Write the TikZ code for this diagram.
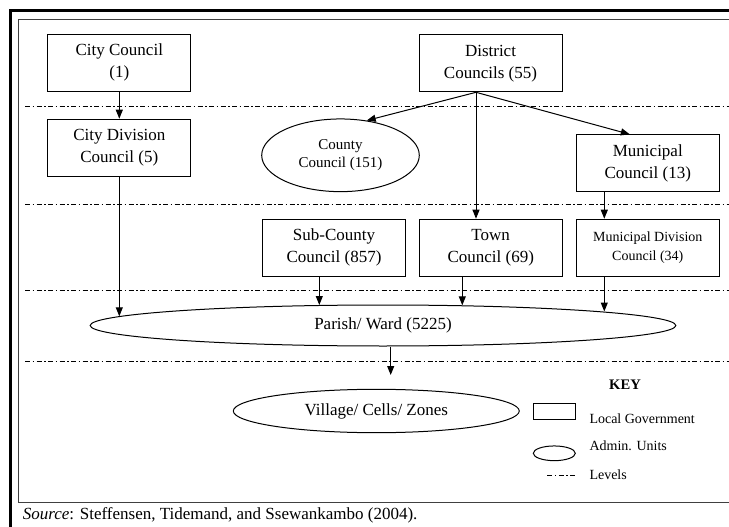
\documentclass[tikz,border=0pt]{standalone}
\usepackage{fontspec}
\setmainfont{Liberation Serif}
\usetikzlibrary{shapes.geometric,arrows.meta}
\begin{document}
\begin{tikzpicture}[x=1pt,y=-1pt,
	lgbox/.style={draw,line width=1pt,minimum width=143pt,minimum height=57pt,inner sep=0pt,align=center,font=\fontsize{17}{22}\selectfont},
	aunit/.style={draw,ellipse,line width=1pt,inner sep=0pt,align=center,font=\fontsize{17}{22}\selectfont},
	lev/.style={line width=.9pt,dash pattern=on 5pt off 2.5pt on 1.5pt off 2.5pt},
	arr/.style={line width=1pt,-{Triangle[length=9pt,width=7pt]}},
	keytext/.style={anchor=west,inner sep=0pt,font=\fontsize{14}{16}\selectfont}]
	\useasboundingbox (0,0) rectangle (729,527);
	\clip (0,0) rectangle (729,527);
	% khung ngoai va khung trong
	\draw[line width=3pt] (10.5,540) -- (10.5,11) -- (740,11);
	\draw[line width=1.2pt,black!75] (740,502.7) -- (18.5,502.7) -- (18.5,19.5) -- (740,19.5);
	\foreach \y in {106,204.3,290,361}
	\draw[lev] (25,\y) -- (740,\y);
	
	\node[lgbox] (city) at (119.3,62.7) {City Council\\(1)};
	\node[lgbox] (cdiv) at (119.3,147.7) {City Division\\Council (5)};
	\node[lgbox] (dist) at (490.5,63.3) {District\\Councils (55)};
	\node[aunit,minimum width=157.6pt,minimum height=72.7pt,font=\fontsize{15}{18}\selectfont] (county) at (340.5,155.3) {County\\Council (151)};
	\node[lgbox] (muni) at (647.8,163.3) {Municipal\\Council (13)};
	\node[lgbox] (sub) at (334,247.7) {Sub-County\\Council (857)};
	\node[lgbox] (town) at (490.7,247.7) {Town\\Council (69)};
	\node[lgbox,font=\fontsize{14}{19.4}\selectfont] (mdiv) at (647.8,247.7) {Municipal Division\\Council (34)};
	\node[aunit,minimum width=585.7pt,minimum height=41pt] (parish) at (383,325.5) {Parish/ Ward (5225)};
	\node[aunit,minimum width=286pt,minimum height=43.4pt] (vill) at (376.3,411) {Village/ Cells/ Zones};
	
	\draw[arr] (city) -- (cdiv);
	\coordinate (dsrc) at ([xshift=-14.5pt]dist.south);
	\draw[arr] (dsrc) -- (county.53);
	\draw[arr] (dsrc) -- (dsrc |- town.north);
	\draw[arr] (dsrc) -- ([xshift=-18pt]muni.north);
	\draw[arr] ([xshift=-43.5pt]muni.south) -- ([xshift=-43.5pt]mdiv.north);
	\draw[arr] (cdiv) -- (cdiv.south |- parish.178);
	\draw[arr] ([xshift=-14.7pt]sub.south) -- ([xshift=-63.7pt,yshift=-.5pt]parish.north);
	\draw[arr] ([xshift=-28.4pt]town.south) -- ([xshift=79.3pt,yshift=-.8pt]parish.north);
	\draw[arr] ([xshift=-43.5pt]mdiv.south) -- ([xshift=221.3pt,yshift=-7pt]parish.north);
	\coordinate (vtip) at (390.7,375);
	\draw[arr] (vtip |- parish.south) -- (vtip);
	
	% chu thich
	\node[font=\fontsize{14.6}{16}\selectfont\bfseries] (key) at (625,385) {KEY};
	\node[draw,line width=1pt,minimum width=42pt,minimum height=15.7pt,inner sep=0pt] (klg) at (554.3,411.2) {};
	\node[keytext] (tlg) at (589.3,418.3) {Local Government};
	\node[draw,ellipse,line width=1pt,minimum width=42pt,minimum height=14.7pt,inner sep=0pt] (kau) at (554.3,453.3) {};
	\node[keytext] (tau) at (589.3,446) {Admin. Units};
	\draw[lev] (547.3,475) -- (575.3,475);
	\node[keytext] (tlev) at (589.3,475) {Levels};
	
	\node[anchor=west,inner sep=0pt,font=\fontsize{17}{20}\selectfont] (src) at (22.7,515) {\textit{Source}: Steffensen, Tidemand, and Ssewankambo (2004).};
\end{tikzpicture}
\end{document}
